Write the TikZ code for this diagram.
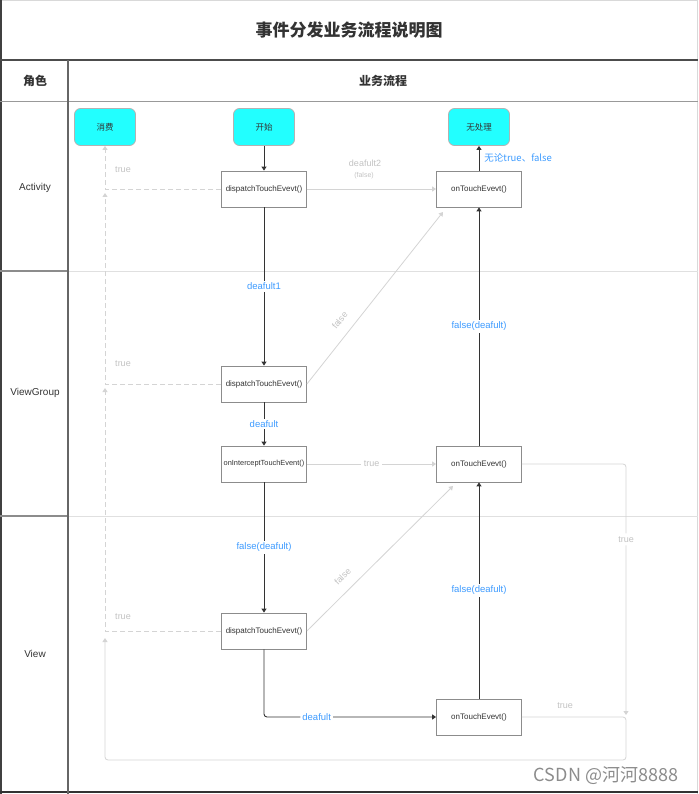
\documentclass[tikz,border=0pt]{standalone}
\usepackage{fontspec}
\setmainfont{Liberation Sans}
\newfontfamily\cjk{Noto Sans CJK SC}
\usetikzlibrary{arrows.meta}
\definecolor{boxcyan}{HTML}{22FFFF}
\definecolor{lblue}{HTML}{3D9BFF}
\definecolor{lgray}{HTML}{D4D4D4}
\definecolor{tgray}{HTML}{C2C2C2}
\definecolor{dtext}{HTML}{333333}
\tikzset{
  fnbox/.style={draw=black!45, fill=white, minimum width=85pt, minimum height=36pt, inner sep=0pt, text=dtext, font=\fontsize{8}{9}\selectfont, line width=0.8pt},
  term/.style={draw=black!30, fill=boxcyan, rounded corners=6pt, minimum width=61pt, minimum height=37pt, inner sep=0pt, text=dtext, font=\cjk\fontsize{8.5}{10}\selectfont, line width=0.8pt},
  tip/.style={-{Triangle[width=5pt,length=4pt]}},
  flow/.style={draw=black!80, line width=0.9pt, tip},
  alt/.style={draw=lgray, line width=0.8pt, tip},
  altd/.style={alt, dash pattern=on 5pt off 3pt},
  blbl/.style={fill=white, text=lblue, font=\fontsize{9.5}{11}\selectfont, inner sep=2pt},
  glbl/.style={text=tgray, font=\fontsize{9}{10}\selectfont, inner sep=1pt},
  lane/.style={text=dtext, font=\fontsize{10}{12}\selectfont},
  hdr/.style={text=dtext, font=\cjk\bfseries\fontsize{12}{14}\selectfont}
}
\begin{document}
\begin{tikzpicture}[x=1pt,y=-1pt]
\useasboundingbox (0,0) rectangle (698,794);
% ---- table frame ----
\draw[black!15, line width=0.8pt] (0,0.5) -- (698,0.5);
\draw[black!15, line width=0.8pt] (697.5,0) -- (697.5,794);
\draw[black!75, line width=1.5pt] (0.8,0) -- (0.8,794);
\draw[black!80, line width=2pt] (0,792) -- (698,792);
\draw[black!70, line width=1.2pt] (0,60) -- (698,60);
\draw[black!40, line width=1pt] (0,102) -- (698,102);
\draw[black!12, line width=0.8pt] (68,271) -- (698,271);
\draw[black!12, line width=0.8pt] (68,516) -- (698,516);
\draw[black!45, line width=1.2pt] (0,271) -- (68,271);
\draw[black!45, line width=1.2pt] (0,516) -- (68,516);
\draw[black!60, line width=1.5pt] (68,60) -- (68,794);
% ---- headers ----
\node[text=dtext, font=\cjk\bfseries\fontsize{17}{20}\selectfont] (title) at (349,30) {事件分发业务流程说明图};
\node[hdr] (role) at (35,81) {角色};
\node[hdr] (proc) at (383,81) {业务流程};
\node[lane] (lact) at (35,188) {Activity};
\node[lane] (lvg) at (35,393) {ViewGroup};
\node[lane] (lv) at (35,654) {View};
% ---- nodes ----
\node[term] (c1) at (105,127) {消费};
\node[term] (st) at (264,127) {开始};
\node[term] (no) at (479,127) {无处理};
\node[fnbox] (d1) at (264,189) {dispatchTouchEvevt()};
\node[fnbox] (t1) at (479,189) {onTouchEvevt()};
\node[fnbox] (d2) at (264,384) {dispatchTouchEvevt()};
\node[fnbox, font=\fontsize{7.4}{9}\selectfont] (i2) at (264,464) {onInterceptTouchEvent()};
\node[fnbox] (t2) at (479,464) {onTouchEvevt()};
\node[fnbox] (d3) at (264,631) {dispatchTouchEvevt()};
\node[fnbox] (t3) at (479,717) {onTouchEvevt()};
% ---- helper coordinates ----
\coordinate (a1) at (105,193);
\coordinate (a2) at (105,388);
\coordinate (a3) at (105,638);
\coordinate (t1in) at (443,212);
\coordinate (t2in) at (453,486);
\coordinate (r1) at (626,715);
\coordinate (br) at (626,760);
\coordinate (bl) at (105,760);
% ---- main flow ----
\draw[flow] (st) -- (d1);
\draw[flow] (d1) -- node[blbl] {deafult1} (d2);
\draw[flow] (d2) -- node[blbl] {deafult} (i2);
\draw[flow] (i2) -- node[blbl] {false(deafult)} (d3);
\draw[flow, rounded corners=3pt] (d3) |- node[blbl, pos=0.653] {deafult} (t3);
\draw[flow] (t3) -- node[blbl] {false(deafult)} (t2);
\draw[flow] (t2) -- node[blbl] {false(deafult)} (t1);
\draw[flow] (t1) -- node[pos=0.5, right=4pt, text=lblue, font=\cjk\fontsize{9.5}{11}\selectfont, inner sep=1pt] {无论true、false} (no);
% ---- alternative flows ----
\draw[alt] (d1) -- (t1);
\node[glbl] (ldf2) at (365,163) {deafult2};
\node[glbl, font=\fontsize{7}{8}\selectfont] (lfal) at (364,176) {(false)};
\draw[altd] (d1.west) -| (c1.south);
\draw[altd] (d2.west) -| (a1);
\draw[altd] (d3.west) -| (a2);
\node[glbl] (tr1) at (123,170) {true};
\node[glbl] (tr2) at (123,364) {true};
\node[glbl] (tr3) at (123,617) {true};
\draw[alt] (d2.east) -- node[sloped, above=9pt, pos=0.32, glbl] {false} (t1in);
\draw[alt] (d3.east) -- node[sloped, above=9pt, pos=0.31, glbl] {false} (t2in);
\draw[alt] (i2) -- node[fill=white, glbl, inner sep=3pt] {true} (t2);
\draw[alt, rounded corners=3pt] (t2.east) -| node[pos=0.65, fill=white, glbl, inner sep=3pt] {true} (r1);
\draw[alt, rounded corners=3pt] (t3.east) -| (br) -- (bl) -- (a3);
\node[glbl] (tr4) at (565,706) {true};
% ---- watermark ----
\node[text=black!45, font=\cjk\fontsize{18}{20}\selectfont, inner sep=0pt] (wm) at (606,776) {CSDN @河河8888};
\end{tikzpicture}
\end{document}
